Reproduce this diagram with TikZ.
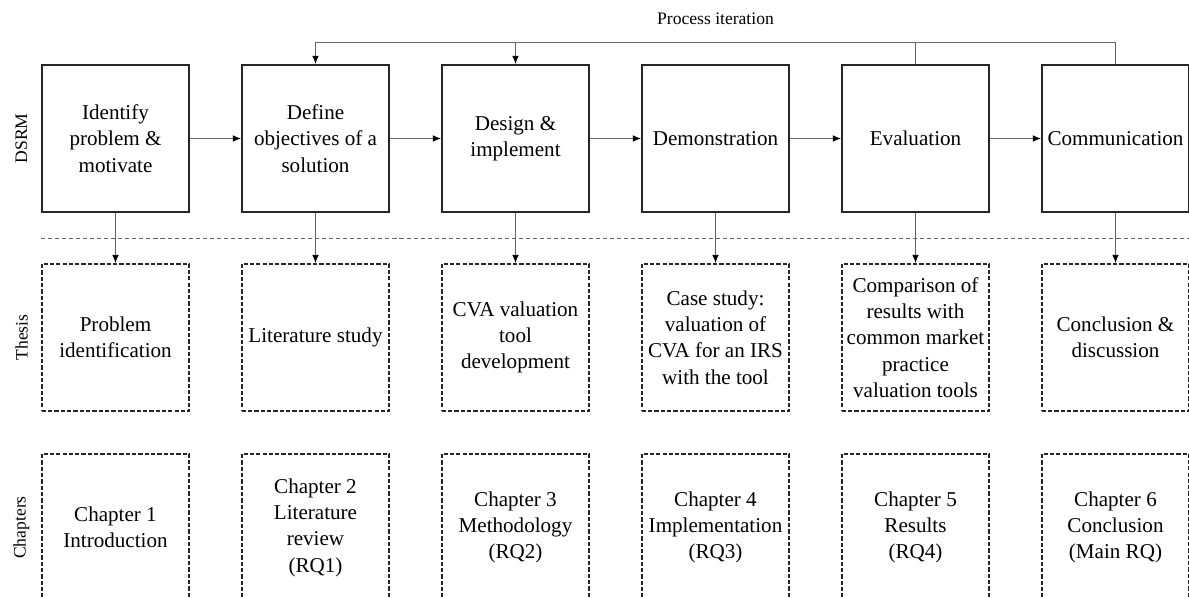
\documentclass[tikz,border=0pt]{standalone}
\usepackage{fontspec}
\setmainfont{Liberation Serif}
\usepackage{tikz}
\usetikzlibrary{arrows.meta}

\begin{document}
\begin{tikzpicture}[>={Latex[length=1.6mm,width=1.3mm,black]},
  stage/.style={draw=black!85, line width=0.9pt, minimum width=2.95cm, minimum height=2.95cm, inner sep=0pt, align=center, font=\fontsize{12}{15}\selectfont},
  part/.style={stage, dash pattern=on 2.4pt off 1.2pt},
  link/.style={draw=black!60, line width=0.5pt},
  rowlabel/.style={rotate=90, font=\fontsize{10}{12}\selectfont}]
  \useasboundingbox (0,0) rectangle (23.78,-11.98);

  % Hàng DSRM
  \node[stage] (d1) at (2.31,-2.77) {Identify\\problem \&\\motivate};
  \node[stage] (d2) at (6.31,-2.77) {Define\\objectives of a\\solution};
  \node[stage] (d3) at (10.31,-2.77) {Design \&\\implement};
  \node[stage] (d4) at (14.31,-2.77) {Demonstration};
  \node[stage] (d5) at (18.31,-2.77) {Evaluation};
  \node[stage] (d6) at (22.31,-2.77) {Communication};

  % Hàng Thesis
  \node[part] (t1) at (2.31,-6.75) {Problem\\identification};
  \node[part] (t2) at (6.31,-6.75) {Literature study};
  \node[part] (t3) at (10.31,-6.75) {CVA valuation\\tool\\development};
  \node[part] (t4) at (14.31,-6.75) {Case study:\\valuation of\\CVA for an IRS\\with the tool};
  \node[part] (t5) at (18.31,-6.75) {Comparison of\\results with\\common market\\practice\\valuation tools};
  \node[part] (t6) at (22.31,-6.75) {Conclusion \&\\discussion};

  % Hàng Chapters
  \node[part] (c1) at (2.31,-10.55) {Chapter 1\\Introduction};
  \node[part] (c2) at (6.31,-10.55) {Chapter 2\\Literature\\review\\(RQ1)};
  \node[part] (c3) at (10.31,-10.55) {Chapter 3\\Methodology\\(RQ2)};
  \node[part] (c4) at (14.31,-10.55) {Chapter 4\\Implementation\\(RQ3)};
  \node[part] (c5) at (18.31,-10.55) {Chapter 5\\Results\\(RQ4)};
  \node[part] (c6) at (22.31,-10.55) {Chapter 6\\Conclusion\\(Main RQ)};

  % Nhãn hàng
  \node[rowlabel] (lDSRM) at (0.43,-2.77) {DSRM};
  \node[rowlabel] (lThesis) at (0.43,-6.75) {Thesis};
  \node[rowlabel] (lChap) at (0.43,-10.55) {Chapters};

  % Mũi tên ngang
  \draw[link, ->] (d1) -- (d2);
  \draw[link, ->] (d2) -- (d3);
  \draw[link, ->] (d3) -- (d4);
  \draw[link, ->] (d4) -- (d5);
  \draw[link, ->] (d5) -- (d6);

  % Mũi tên xuống
  \draw[link, ->] (d1) -- (t1);
  \draw[link, ->] (d2) -- (t2);
  \draw[link, ->] (d3) -- (t3);
  \draw[link, ->] (d4) -- (t4);
  \draw[link, ->] (d5) -- (t5);
  \draw[link, ->] (d6) -- (t6);

  % Đường phân cách
  \coordinate (sepL) at (0.82,-4.76);
  \coordinate (sepR) at (23.9,-4.76);
  \draw[link, line width=0.4pt, dash pattern=on 2.3pt off 1.7pt] (sepL) -- (sepR);

  % Vòng lặp
  \coordinate (it) at (0,-0.84);
  \node[font=\fontsize{10}{12}\selectfont] (iter) at (14.31,-0.38) {Process iteration};
  \draw[link, ->] (d6.north) |- (d2.north |- it) -- (d2.north);
  \draw[link] (d5.north) -- (d5.north |- it);
  \draw[link, ->] (d3.north |- it) -- (d3.north);
\end{tikzpicture}
\end{document}
